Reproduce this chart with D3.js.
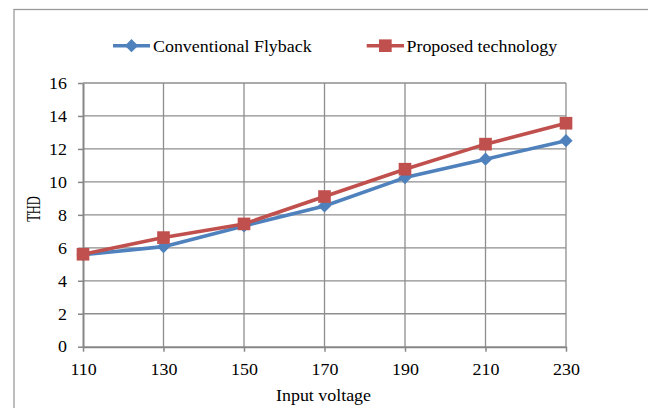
<!DOCTYPE html>
<html>
<head>
<meta charset="utf-8">
<script src="https://cdn.jsdelivr.net/npm/d3@7"></script>
<style>
  html, body { margin: 0; padding: 0; background: #fff; }
  svg { display: block; }
</style>
</head>
<body>
<script>
// Input voltage categories and THD readings for the two converters
const voltages = [110, 130, 150, 170, 190, 210, 230];
const conventionalFlyback = [5.58, 6.07, 7.33, 8.54, 10.26, 11.38, 12.50];
const proposedTechnology = [5.61, 6.62, 7.45, 9.11, 10.77, 12.29, 13.56];
const yTickValues = [0, 2, 4, 6, 8, 10, 12, 14, 16];
const seriesNames = ["Conventional Flyback", "Proposed technology"];
const xTitle = "Input voltage";
const yTitle = "THD";

const W = 648, H = 408;
const plotLeft = 83, plotRight = 566, plotTop = 83, plotBottom = 346.7;
const sx = 1.12; // horizontal stretch applied to the text glyphs
const fontSize = 16;
const serif = "'Liberation Serif', 'Times New Roman', serif";

const blue = "#4F81BD", red = "#C0504D";
const gridColor = "#8e8e8e", axisColor = "#868686";

const svg = d3.select("body").append("svg").attr("width", W).attr("height", H);
svg.append("rect").attr("width", W).attr("height", H).attr("fill", "#fff");

// outer chart frame (extends past the right and bottom edges)
svg.append("rect")
  .attr("x", 14).attr("y", 9.5).attr("width", 800).attr("height", 600)
  .attr("fill", "none").attr("stroke", "#9a9a9a").attr("stroke-width", 1.3);

const x = d3.scaleLinear().domain([110, 230]).range([plotLeft, plotRight]);
const y = d3.scaleLinear().domain([0, 16]).range([plotBottom, plotTop]);

// gridlines
const grid = svg.append("g");
grid.selectAll("line.h").data(yTickValues.filter(v => v > 0)).join("line")
  .attr("class", "h")
  .attr("x1", plotLeft).attr("x2", plotRight)
  .attr("y1", d => y(d)).attr("y2", d => y(d))
  .attr("stroke", gridColor).attr("stroke-width", 1.3);
grid.selectAll("line.v").data(voltages.slice(1)).join("line")
  .attr("class", "v")
  .attr("x1", d => x(d)).attr("x2", d => x(d))
  .attr("y1", y(16)).attr("y2", y(0))
  .attr("stroke", gridColor).attr("stroke-width", 1.3);

// y axis
const yAxis = svg.append("g").attr("transform", `translate(${plotLeft},0)`)
  .call(d3.axisLeft(y).tickValues(yTickValues).tickSize(5).tickSizeOuter(0).tickFormat(d3.format("d")));
yAxis.attr("font-family", serif).attr("font-size", fontSize);
yAxis.select(".domain").attr("stroke", axisColor).attr("stroke-width", 2);
yAxis.selectAll(".tick line").attr("stroke", axisColor).attr("stroke-width", 1.5);
yAxis.selectAll(".tick text")
  .attr("x", -16 / sx).attr("dy", "0.33em")
  .attr("transform", `scale(${sx},1)`)
  .style("font-family", serif).style("font-size", fontSize + "px").attr("fill", "#000");

// x axis
const xAxis = svg.append("g").attr("transform", `translate(0,${plotBottom})`)
  .call(d3.axisBottom(x).tickValues(voltages).tickSize(5).tickSizeOuter(0).tickFormat(d3.format("d")));
xAxis.attr("font-family", serif).attr("font-size", fontSize);
xAxis.select(".domain").attr("stroke", axisColor).attr("stroke-width", 2);
xAxis.selectAll(".tick line").attr("stroke", axisColor).attr("stroke-width", 1.5);
xAxis.selectAll(".tick text")
  .attr("y", 28.3).attr("dy", 0)
  .attr("transform", `scale(${sx},1)`)
  .style("font-family", serif).style("font-size", fontSize + "px").attr("fill", "#000");

// axis titles
svg.append("text")
  .attr("transform", `translate(${(plotLeft + plotRight) / 2 - 1},401) scale(${sx},1)`)
  .attr("text-anchor", "middle")
  .style("font-family", serif).style("font-size", fontSize + "px")
  .text(xTitle);
svg.append("text")
  .attr("transform", `translate(39.5,209) scale(1.45,1) rotate(-90)`)
  .attr("text-anchor", "middle")
  .style("font-family", serif).style("font-size", "12.5px")
  .text(yTitle);

// series
const line = d3.line().x((d, i) => x(voltages[i])).y(d => y(d));
const diamond = d3.symbol().type(d3.symbolSquare).size(88);
const square = d3.symbol().type(d3.symbolSquare).size(160);

function drawSeries(values, color, marker, rot) {
  const g = svg.append("g");
  g.append("path").datum(values).attr("d", line)
    .attr("fill", "none").attr("stroke", color).attr("stroke-width", 3.6)
    .attr("stroke-linejoin", "round");
  g.selectAll("path.m").data(values).join("path")
    .attr("class", "m")
    .attr("d", marker)
    .attr("transform", (d, i) => `translate(${x(voltages[i])},${y(d)}) rotate(${rot})`)
    .attr("fill", color);
}
drawSeries(conventionalFlyback, blue, diamond, 45);
drawSeries(proposedTechnology, red, square, 0);

// legend
const legendItems = [
  { name: seriesNames[0], color: blue, marker: diamond, rot: 45, x0: 113, x1: 150, tx: 153 },
  { name: seriesNames[1], color: red, marker: square, rot: 0, x0: 366.7, x1: 404, tx: 406.5 }
];
const ly = 45.7;
legendItems.forEach(it => {
  svg.append("line").attr("x1", it.x0).attr("x2", it.x1).attr("y1", ly).attr("y2", ly)
    .attr("stroke", it.color).attr("stroke-width", 3.6);
  svg.append("path").attr("d", it.marker)
    .attr("transform", `translate(${(it.x0 + it.x1) / 2},${ly}) rotate(${it.rot})`)
    .attr("fill", it.color);
  svg.append("text")
    .attr("transform", `translate(${it.tx},52.3) scale(${sx},1)`)
    .style("font-family", serif).style("font-size", fontSize + "px")
    .attr("fill", "#000")
    .text(it.name);
});
</script>
</body>
</html>
